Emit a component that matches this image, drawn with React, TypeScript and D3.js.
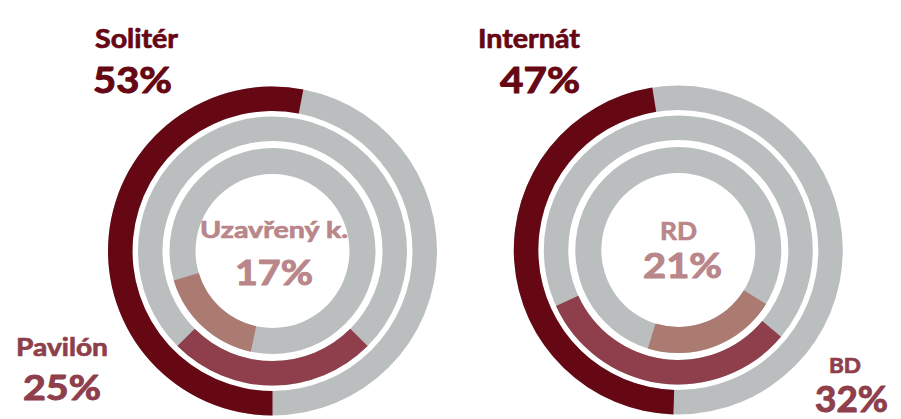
import React from "react";
import * as d3 from "d3";

// ---- data ----
const chartNames = ["left", "right"];
const ringLabels = [
  ["Solitér", "Pavilón", "Uzavřený k."],
  ["Internát", "BD", "RD"],
];
const ringValues = [
  [53, 25, 17],
  [47, 32, 21],
];

// ---- layout ----
const W = 901;
const H = 419;
const centers = [
  { cx: 272.5, cy: 251 },
  { cx: 678.3, cy: 250 },
];
const radii = [
  { inner: 140, outer: 164.5 },
  { inner: 110, outer: 134.5 },
  { inner: 77, outer: 103 },
];
// mid-angle (degrees, clockwise from top) of each coloured arc
const midAngles = [
  [275.4, 180, 222.8],
  [266.3, 187.8, 159.4],
];
const arcColors = ["#660714", "#8e3f4b", "#ab7a70"];
const grey = "#bbbebf";
const labelColors = ["#660714", "#8e3f4b", "#b9868a"];

type TextSpec = { x: number; y: number; fs: number; w: number };
const nameSpecs: TextSpec[][] = [
  [
    { x: 95, y: 48, fs: 26, w: 83 },
    { x: 16, y: 356, fs: 25, w: 92 },
    { x: 200, y: 238, fs: 23, w: 148 },
  ],
  [
    { x: 478, y: 48, fs: 26, w: 102 },
    { x: 829, y: 372.7, fs: 20, w: 32 },
    { x: 660, y: 240, fs: 25, w: 37 },
  ],
];
const valueSpecs: TextSpec[][] = [
  [
    { x: 93, y: 92.5, fs: 36, w: 79 },
    { x: 23, y: 400, fs: 35, w: 78 },
    { x: 235, y: 285, fs: 34, w: 78 },
  ],
  [
    { x: 500, y: 93, fs: 36, w: 80 },
    { x: 815, y: 412, fs: 37, w: 73 },
    { x: 643, y: 278, fs: 34, w: 79 },
  ],
];

const toRad = (deg: number) => (deg * Math.PI) / 180;

export default function App() {
  const angle = d3.scaleLinear().domain([0, 100]).range([0, 2 * Math.PI]);
  return (
    <svg
      width={W}
      height={H}
      style={{ position: "absolute", left: 0, top: 0, background: "#fff" }}
      fontFamily="Lato, 'Open Sans', sans-serif"
      fontWeight={700}
    >
      {chartNames.map((name, ci) => {
        const { cx, cy } = centers[ci];
        return (
          <g key={name} transform={`translate(${cx},${cy})`}>
            {ringValues[ci].map((v, ri) => {
              const r = radii[ri];
              const full = d3.arc()({
                innerRadius: r.inner,
                outerRadius: r.outer,
                startAngle: 0,
                endAngle: 2 * Math.PI,
              } as any) as string;
              const span = angle(v);
              const mid = toRad(midAngles[ci][ri]);
              const part = d3.arc()({
                innerRadius: r.inner,
                outerRadius: r.outer,
                startAngle: mid - span / 2,
                endAngle: mid + span / 2,
              } as any) as string;
              return (
                <g key={ri}>
                  <path d={full} fill={grey} />
                  <path d={part} fill={arcColors[ri]} />
                </g>
              );
            })}
          </g>
        );
      })}
      {chartNames.map((name, ci) =>
        ringLabels[ci].map((lab, ri) => {
          const ns = nameSpecs[ci][ri];
          const vs = valueSpecs[ci][ri];
          const c = labelColors[ri];
          return (
            <g key={`${name}-${ri}`} fill={c} stroke={c} strokeLinejoin="round">
              <text
                x={ns.x}
                y={ns.y}
                fontSize={ns.fs}
                strokeWidth={0.7}
                textLength={ns.w}
                lengthAdjust="spacingAndGlyphs"
              >
                {lab}
              </text>
              <text
                x={vs.x}
                y={vs.y}
                fontSize={vs.fs}
                strokeWidth={1}
                textLength={vs.w}
                lengthAdjust="spacingAndGlyphs"
              >
                {`${ringValues[ci][ri]}%`}
              </text>
            </g>
          );
        })
      )}
    </svg>
  );
}
